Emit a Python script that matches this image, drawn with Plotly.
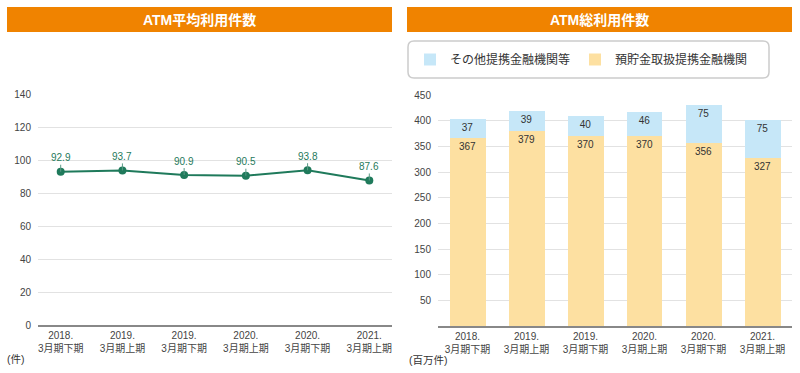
import plotly.graph_objects as go

# ---------------- data ----------------
categories = ["2018.<br>3月期下期", "2019.<br>3月期上期", "2019.<br>3月期下期",
              "2020.<br>3月期上期", "2020.<br>3月期下期", "2021.<br>3月期上期"]
avg_usage = [92.9, 93.7, 90.9, 90.5, 93.8, 87.6]
deposit_partners = [367, 379, 370, 370, 356, 327]
other_partners = [37, 39, 40, 46, 75, 75]
left_yticks = [0, 20, 40, 60, 80, 100, 120, 140]
right_yticks = [50, 100, 150, 200, 250, 300, 350, 400, 450]
name_other = "その他提携金融機関等"
name_deposit = "預貯金取扱提携金融機関"
title_left = "ATM平均利用件数"
title_right = "ATM総利用件数"
unit_left = "(件)"
unit_right = "(百万件)"

W, H = 800, 373
FONT = "Liberation Sans, Arial, Noto Sans CJK JP, sans-serif"
GREEN = "#1f7a5b"
ORANGE = "#f08300"
BAR_ORANGE = "#fde0a1"
BAR_BLUE = "#c6e7f8"


def px(x):
    return x / W


def py(y):
    return (H - y) / H


fig = go.Figure()

# left: line chart
fig.add_trace(go.Scatter(
    x=categories, y=avg_usage, mode="lines+markers",
    line=dict(color=GREEN, width=2),
    marker=dict(color=GREEN, size=8),
    xaxis="x", yaxis="y", showlegend=False, hoverinfo="skip"))

# right: stacked bars
fig.add_trace(go.Bar(
    x=categories, y=deposit_partners, name=name_deposit,
    marker=dict(color=BAR_ORANGE, line=dict(width=0)),
    text=[str(v) for v in deposit_partners], textposition="inside",
    insidetextanchor="end", textfont=dict(color="#333333", size=10, family=FONT),
    width=0.61, xaxis="x2", yaxis="y2"))
fig.add_trace(go.Bar(
    x=categories, y=other_partners, name=name_other,
    marker=dict(color=BAR_BLUE, line=dict(width=0)),
    text=[str(v) for v in other_partners], textposition="inside",
    insidetextanchor="end", textfont=dict(color="#333333", size=10, family=FONT),
    width=0.61, xaxis="x2", yaxis="y2"))

annotations = []
for c, v in zip(categories, avg_usage):
    annotations.append(dict(
        x=c, y=v, xref="x", yref="y", text=f"{v:.1f}",
        showarrow=True, arrowhead=0, arrowwidth=1, arrowcolor="#5a9a85",
        ax=0, ay=-14, font=dict(color=GREEN, size=10, family=FONT)))

# titles
annotations.append(dict(x=px(199.5), y=py(19.5), xref="paper", yref="paper",
                        xanchor="center", yanchor="middle",
                        text=f"<b>{title_left}</b>", showarrow=False,
                        font=dict(color="white", size=14, family=FONT)))
annotations.append(dict(x=px(599.5), y=py(19.5), xref="paper", yref="paper",
                        xanchor="center", yanchor="middle",
                        text=f"<b>{title_right}</b>", showarrow=False,
                        font=dict(color="white", size=14, family=FONT)))
# units
annotations.append(dict(x=px(5), y=py(359), xref="paper", yref="paper",
                        xanchor="left", yanchor="middle", text=unit_left, showarrow=False,
                        font=dict(color="#333333", size=10.5, family=FONT)))
annotations.append(dict(x=px(407), y=py(360), xref="paper", yref="paper",
                        xanchor="left", yanchor="middle", text=unit_right, showarrow=False,
                        font=dict(color="#333333", size=10.5, family=FONT)))


def rounded_rect(x0, y0, x1, y1, r):
    pts = [
        f"M {px(x0 + r)} {py(y0)}",
        f"L {px(x1 - r)} {py(y0)}",
        f"Q {px(x1)} {py(y0)} {px(x1)} {py(y0 + r)}",
        f"L {px(x1)} {py(y1 - r)}",
        f"Q {px(x1)} {py(y1)} {px(x1 - r)} {py(y1)}",
        f"L {px(x0 + r)} {py(y1)}",
        f"Q {px(x0)} {py(y1)} {px(x0)} {py(y1 - r)}",
        f"L {px(x0)} {py(y0 + r)}",
        f"Q {px(x0)} {py(y0)} {px(x0 + r)} {py(y0)}",
        "Z",
    ]
    return " ".join(pts)


shapes = [
    dict(type="rect", xref="paper", yref="paper", x0=px(7), x1=px(392),
         y0=py(32), y1=py(7), fillcolor=ORANGE, line=dict(width=0), layer="below"),
    dict(type="rect", xref="paper", yref="paper", x0=px(407), x1=px(792),
         y0=py(32), y1=py(7), fillcolor=ORANGE, line=dict(width=0), layer="below"),
    dict(type="path", xref="paper", yref="paper",
         path=rounded_rect(408, 41, 769, 78, 6),
         line=dict(color="#cccccc", width=1.5), fillcolor="rgba(0,0,0,0)"),
]

axis_font = dict(color="#444444", size=10, family=FONT)

fig.update_layout(
    width=W, height=H,
    margin=dict(l=0, r=0, t=0, b=0, autoexpand=False),
    paper_bgcolor="white", plot_bgcolor="white",
    font=dict(family=FONT),
    barmode="stack",
    showlegend=True,
    legend=dict(orientation="h", traceorder="reversed",
                x=px(410), xanchor="left", y=py(59.5), yanchor="middle",
                font=dict(color="#333333", size=12, family=FONT),
                bgcolor="rgba(0,0,0,0)", borderwidth=0),
    xaxis=dict(domain=[px(38), px(392)], type="category",
               showgrid=False, showline=True, linecolor="#888888", linewidth=1.5,
               ticks="", tickfont=axis_font, fixedrange=True, anchor="y"),
    yaxis=dict(domain=[py(325), py(94)], range=[0, 140], tickvals=left_yticks,
               showgrid=True, gridcolor="#e2e2e2", gridwidth=1,
               zeroline=False, showline=False, ticks="",
               tickfont=axis_font, ticklabelstandoff=6, anchor="x"),
    xaxis2=dict(domain=[px(438), px(792)], type="category",
                showgrid=False, showline=True, linecolor="#888888", linewidth=1.5,
                ticks="", tickfont=axis_font, anchor="y2"),
    yaxis2=dict(domain=[py(326), py(95)], range=[0, 450], tickvals=right_yticks,
                showgrid=True, gridcolor="#e2e2e2", gridwidth=1,
                zeroline=False, showline=False, ticks="",
                tickfont=axis_font, ticklabelstandoff=6, anchor="x2"),
    annotations=annotations,
    shapes=shapes,
)

fig.write_html("out.html", config={"displayModeBar": False},
               post_script="document.body.style.margin='0';document.body.style.overflow='hidden';")
